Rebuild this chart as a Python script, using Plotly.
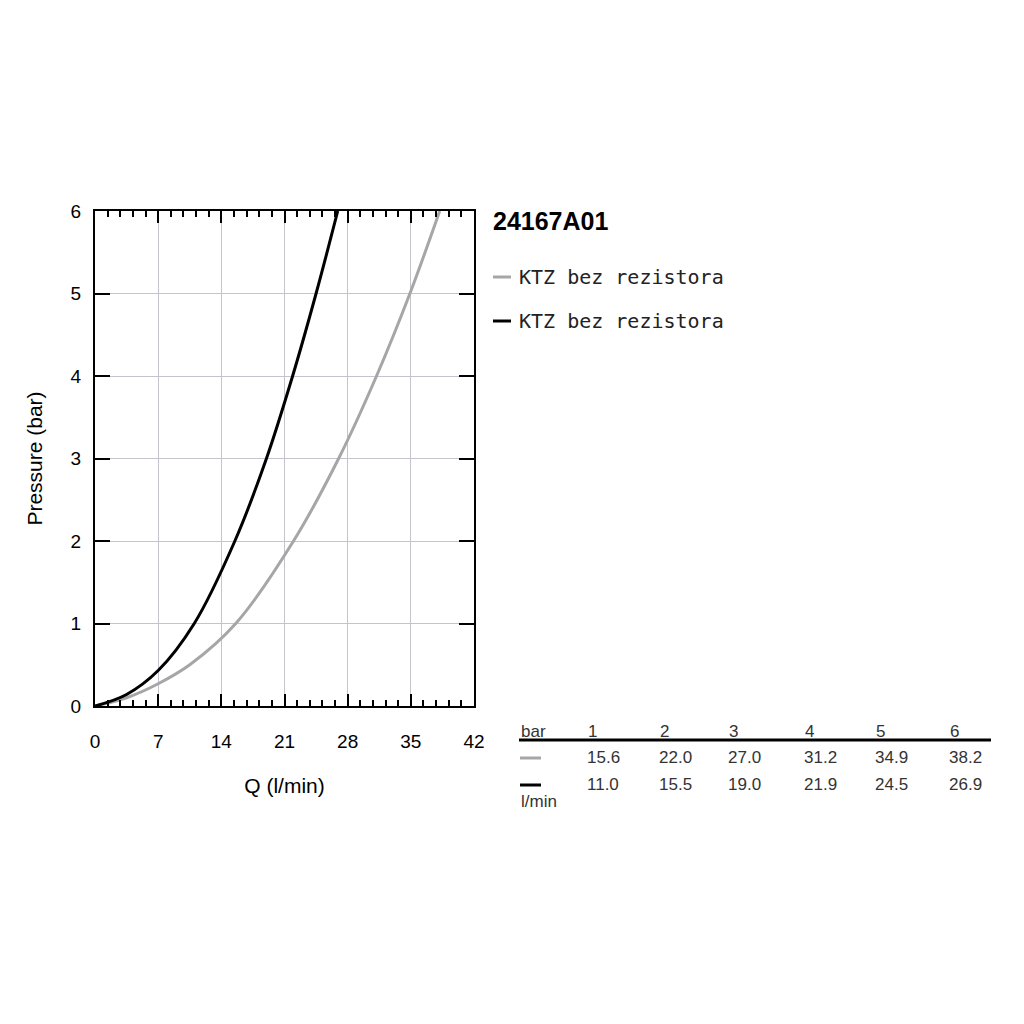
import plotly.graph_objects as go

# table under the chart: pressure steps (bar) and flow (l/min) for each curve
table_bar = [1, 2, 3, 4, 5, 6]
table_gray = [15.6, 22.0, 27.0, 31.2, 34.9, 38.2]
table_black = [11.0, 15.5, 19.0, 21.9, 24.5, 26.9]

# curve points (table points plus a few in the low range)
gray_q = [0, 3.5, 7, 10.5, 15.6, 22.0, 27.0, 31.2, 34.9, 38.2]
gray_p = [0, 0.10, 0.27, 0.50, 1, 2, 3, 4, 5, 6]
black_q = [0, 3.5, 7, 11.0, 15.5, 19.0, 21.9, 24.5, 26.9]
black_p = [0, 0.14, 0.43, 1, 2, 3, 4, 5, 6]

series_names = ["KTZ bez rezistora", "KTZ bez rezistora"]
series_colors = ["#a6a6a6", "#000000"]
chart_title = "24167A01"

x_ticks = [0, 7, 14, 21, 28, 35, 42]
y_ticks = [0, 1, 2, 3, 4, 5, 6]

# plot box in page pixels (page body has an 8px margin)
OFF = 8
L, R, T, B = 95, 474, 211, 706
W = H = 1024


def px(x):
    return (x - L) / (R - L)


def py(y):
    return (B - y) / (B - T)


sans = "Liberation Sans, Arial, sans-serif"
mono = "DejaVu Sans Mono, monospace"

fig = go.Figure()
for qs, ps, name, col in [(gray_q, gray_p, series_names[0], series_colors[0]),
                          (black_q, black_p, series_names[1], series_colors[1])]:
    fig.add_trace(go.Scatter(
        x=qs, y=ps, mode="lines", name=name,
        line=dict(color=col, width=3, shape="spline", smoothing=1.0),
        showlegend=False,
    ))

fig.update_layout(
    width=W, height=H,
    margin=dict(l=L - OFF, r=W - R + OFF, t=T - OFF, b=H - B + OFF, autoexpand=False),
    plot_bgcolor="white", paper_bgcolor="white",
    font=dict(family=sans, size=19, color="#000"),
    showlegend=False,
)
fig.update_xaxes(
    range=[0, 42], tickvals=x_ticks, ticks="inside", ticklen=12, tickwidth=2,
    tickcolor="#000", showline=True, linecolor="#000", linewidth=2, mirror="ticks",
    showgrid=True, gridcolor="#c4c4cc", gridwidth=1, zeroline=False,
    minor=dict(dtick=1.4, tick0=0, ticks="inside", ticklen=6, tickwidth=1.5,
               tickcolor="#000", showgrid=False),
    title=dict(text="Q (l/min)", font=dict(size=21), standoff=28),
    tickfont=dict(size=19), ticklabelstandoff=17,
)
fig.update_yaxes(
    range=[0, 6], tickvals=y_ticks, ticks="inside", ticklen=15, tickwidth=2,
    tickcolor="#000", showline=True, linecolor="#000", linewidth=2, mirror="ticks",
    showgrid=True, gridcolor="#c4c4cc", gridwidth=1, zeroline=False,
    title=dict(text="Pressure (bar)", font=dict(size=21), standoff=22),
    tickfont=dict(size=19), ticklabelstandoff=8,
)

ann = []
shapes = []

# title
ann.append(dict(xref="paper", yref="paper", x=px(491), y=py(221), text="<b>" + chart_title + "</b>",
                showarrow=False, xanchor="left", yanchor="middle",
                font=dict(family=sans, size=25, color="#000")))

# legend
for i, (name, col) in enumerate(zip(series_names, series_colors)):
    yy = 277 + 44 * i
    shapes.append(dict(type="line", xref="paper", yref="paper", x0=px(493), x1=px(511),
                       y0=py(yy), y1=py(yy), line=dict(color=col, width=3)))
    ann.append(dict(xref="paper", yref="paper", x=px(517), y=py(yy), text=name,
                    showarrow=False, xanchor="left", yanchor="middle",
                    font=dict(family=mono, size=20, color="#222")))

# table
tfont = dict(family=sans, size=17, color="#333")
col_x = [585, 657, 726, 802, 873, 947]
ann.append(dict(xref="paper", yref="paper", x=px(519), y=py(731), text="bar", showarrow=False,
                xanchor="left", yanchor="middle", font=tfont))
for cx, p in zip(col_x, table_bar):
    ann.append(dict(xref="paper", yref="paper", x=px(cx + 1), y=py(731), text=str(p), showarrow=False,
                    xanchor="left", yanchor="middle", font=tfont))
shapes.append(dict(type="line", xref="paper", yref="paper", x0=px(519), x1=px(991),
                   y0=py(740), y1=py(740), line=dict(color="#000", width=3)))
for row, (flows, col) in enumerate([(table_gray, series_colors[0]), (table_black, series_colors[1])]):
    yy = 757 + 27 * row
    shapes.append(dict(type="line", xref="paper", yref="paper", x0=px(520), x1=px(541),
                       y0=py(yy + 1), y1=py(yy + 1), line=dict(color=col, width=3)))
    for cx, f in zip(col_x, flows):
        ann.append(dict(xref="paper", yref="paper", x=px(cx), y=py(yy), text="%.1f" % f,
                        showarrow=False, xanchor="left", yanchor="middle", font=tfont))
ann.append(dict(xref="paper", yref="paper", x=px(519), y=py(801), text="l/min", showarrow=False,
                xanchor="left", yanchor="middle", font=tfont))

fig.update_layout(annotations=ann, shapes=shapes)
fig.write_html("out.html")
